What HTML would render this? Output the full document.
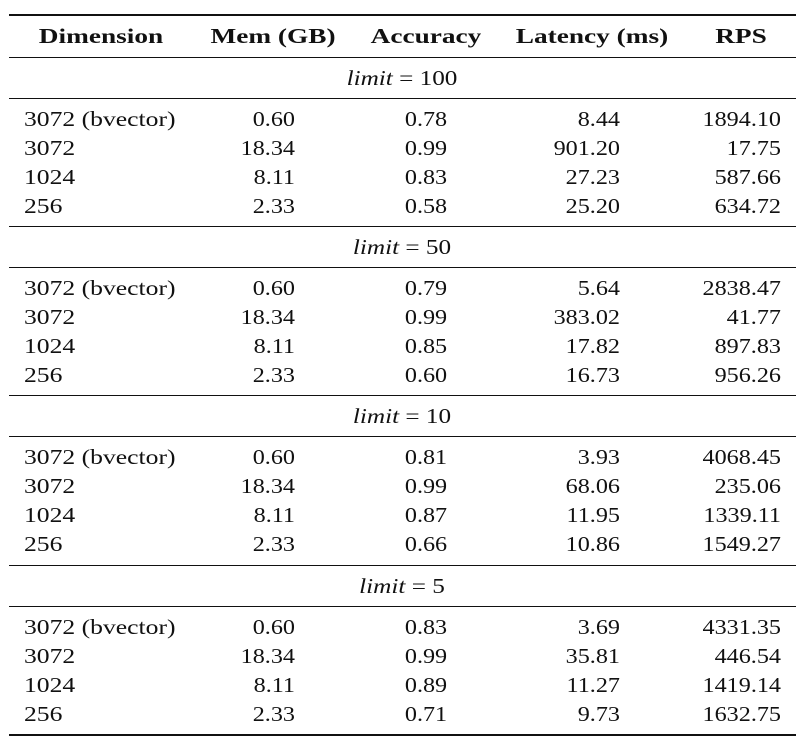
<!DOCTYPE html>
<html><head><meta charset="utf-8"><style>
body{margin:0;width:806px;height:752px;background:#fff;position:relative;overflow:hidden;font-family:"Liberation Serif",serif;color:#111}
.r{position:absolute;left:9px;width:787px;background:#111}
.t{position:absolute;font-size:21px;line-height:24px;white-space:nowrap;transform:scaleX(1.15)}
.h{font-weight:bold;transform:scaleX(1.3);transform-origin:center}
.L{text-align:left;transform-origin:left center}.R{text-align:right;transform-origin:right center}.C{text-align:center;transform-origin:center}
.dim{transform:scaleX(1.22)}
</style></head><body>
<div class="r" style="top:14px;height:2px"></div>
<div class="r" style="top:57px;height:1px"></div>
<div class="r" style="top:734px;height:2px"></div>
<div id="c"></div>
<div class="t h C" style="left:0px;width:202px;top:24px">Dimension</div>
<div class="t h C" style="left:173px;width:200px;top:24px">Mem (GB)</div>
<div class="t h C" style="left:326px;width:200px;top:24px">Accuracy</div>
<div class="t h C" style="left:492px;width:200px;top:24px">Latency (ms)</div>
<div class="t h C" style="left:641px;width:200px;top:24px">RPS</div>
<script>
var d=[["100",78,[["3072 (bvector)","0.60","0.78","8.44","1894.10"],["3072","18.34","0.99","901.20","17.75"],["1024","8.11","0.83","27.23","587.66"],["256","2.33","0.58","25.20","634.72"]]],
["50",247,[["3072 (bvector)","0.60","0.79","5.64","2838.47"],["3072","18.34","0.99","383.02","41.77"],["1024","8.11","0.85","17.82","897.83"],["256","2.33","0.60","16.73","956.26"]]],
["10",416,[["3072 (bvector)","0.60","0.81","3.93","4068.45"],["3072","18.34","0.99","68.06","235.06"],["1024","8.11","0.87","11.95","1339.11"],["256","2.33","0.66","10.86","1549.27"]]],
["5",586,[["3072 (bvector)","0.60","0.83","3.69","4331.35"],["3072","18.34","0.99","35.81","446.54"],["1024","8.11","0.89","11.27","1419.14"],["256","2.33","0.71","9.73","1632.75"]]]];
var h="";
d.forEach(function(s,i){
 var y=s[1];
 if(i>0)h+='<div class="r" style="top:'+(y-21)+'px;height:1px"></div>';
 h+='<div class="t C" style="left:302px;width:200px;top:'+(y-12)+'px;transform:scaleX(1.2)"><i>limit</i> = '+s[0]+'</div>';
 h+='<div class="r" style="top:'+(y+20)+'px;height:1px"></div>';
 s[2].forEach(function(r,j){
  var c=y+41+j*29-12;
  h+='<div class="t L dim" style="left:24px;top:'+c+'px">'+r[0]+'</div>';
  h+='<div class="t R" style="left:195px;width:100px;top:'+c+'px">'+r[1]+'</div>';
  h+='<div class="t C" style="left:376px;width:100px;top:'+c+'px">'+r[2]+'</div>';
  h+='<div class="t R" style="left:520px;width:100px;top:'+c+'px">'+r[3]+'</div>';
  h+='<div class="t R" style="left:681px;width:100px;top:'+c+'px">'+r[4]+'</div>';
 });
});
document.getElementById("c").innerHTML=h;
</script>
</body></html>
